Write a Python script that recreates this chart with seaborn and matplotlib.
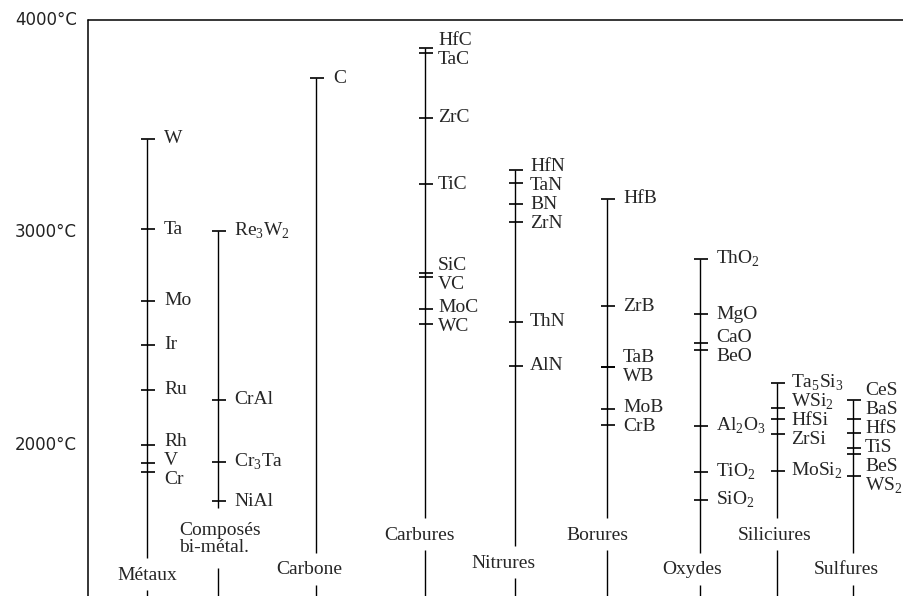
import matplotlib
matplotlib.use('Agg')
import matplotlib.pyplot as plt
import seaborn as sns
import pandas as pd

# Melting points (°C), one small list per family
groups = ['Métaux', 'Composés\nbi-métal.', 'Carbone', 'Carbures', 'Nitrures',
          'Borures', 'Oxydes', 'Siliciures', 'Sulfures']

metaux = ['W', 'Ta', 'Mo', 'Ir', 'Ru', 'Rh', 'V', 'Cr']
metaux_t = [3440, 3016, 2678, 2471, 2259, 2000, 1915, 1873]

bimetal = [r'Re$_\mathregular{3}$W$_\mathregular{2}$', 'CrAl',
           r'Cr$_\mathregular{3}$Ta', 'NiAl']
bimetal_t = [3007, 2212, 1920, 1736]

carbone = ['C']
carbone_t = [3727]

carbures = ['HfC', 'TaC', 'ZrC', 'TiC', 'SiC', 'VC', 'MoC', 'WC']
carbures_t = [3868, 3845, 3539, 3228, 2809, 2791, 2640, 2569]

nitrures = ['HfN', 'TaN', 'BN', 'ZrN', 'ThN', 'AlN']
nitrures_t = [3294, 3233, 3134, 3049, 2579, 2372]

borures = ['HfB', 'ZrB', 'TaB', 'WB', 'MoB', 'CrB']
borures_t = [3158, 2654, 2367, 2366, 2169, 2094]

oxydes = [r'ThO$_\mathregular{2}$', 'MgO', 'CaO', 'BeO',
          r'Al$_\mathregular{2}$O$_\mathregular{3}$',
          r'TiO$_\mathregular{2}$', r'SiO$_\mathregular{2}$']
oxydes_t = [2875, 2616, 2480, 2447, 2089, 1873, 1741]

siliciures = [r'Ta$_\mathregular{5}$Si$_\mathregular{3}$', r'WSi$_\mathregular{2}$',
              'HfSi', 'ZrSi', r'MoSi$_\mathregular{2}$']
siliciures_t = [2292, 2174, 2122, 2052, 1878]

sulfures = ['CeS', 'BaS', 'HfS', 'TiS', 'BeS', r'WS$_\mathregular{2}$']
sulfures_t = [2212, 2122, 2056, 1986, 1958, 1854]

y_ticks = [4000, 3000, 2000]

all_names = [metaux, bimetal, carbone, carbures, nitrures, borures, oxydes,
             siliciures, sulfures]
all_temps = [metaux_t, bimetal_t, carbone_t, carbures_t, nitrures_t, borures_t,
             oxydes_t, siliciures_t, sulfures_t]

# Layout (pixel columns / rows of the 904x596 canvas)
W, H = 904, 596
SCALE = 0.2125          # px per °C


def px2deg(y):
    return 4000 - (y - 20) / SCALE


col_x = [147, 218, 316, 425, 515, 607, 700, 777, 853]
label_dx = [17, 16, 17, 13, 15, 16, 16, 14, 12]
name_row = [575, 539, 570, 535, 563, 535, 570, 535, 570]
name_dx = [0, 2, -7, -5, -12, -10, -8, -2, -7]
name_half = [17, 31, 17, 17, 17, 17, 17, 17, 17]


def spread(vals, gap):
    """Push labels apart so that they are at least `gap` apart (cluster centred)."""
    order = sorted(range(len(vals)), key=lambda i: -vals[i])
    clusters = []
    for i in order:
        clusters.append([i])
        while len(clusters) > 1:
            a, b = clusters[-2], clusters[-1]
            ca = sum(vals[j] for j in a) / len(a)
            cb = sum(vals[j] for j in b) / len(b)
            a_bottom = ca - (len(a) - 1) / 2 * gap
            b_top = cb + (len(b) - 1) / 2 * gap
            if a_bottom - b_top < gap:
                clusters[-2:] = [a + b]
            else:
                break
    pos = [0.0] * len(vals)
    for c in clusters:
        m = sum(vals[j] for j in c) / len(c)
        top = m + (len(c) - 1) / 2 * gap
        for k, j in enumerate(c):
            pos[j] = top - k * gap
    return pos


sns.set_style('white')
plt.rcParams['font.family'] = ['Liberation Serif', 'DejaVu Serif']
plt.rcParams['mathtext.fontset'] = 'custom'
plt.rcParams['mathtext.rm'] = 'Liberation Serif'

rows = []
for i, (names, temps) in enumerate(zip(all_names, all_temps)):
    for n, t in zip(names, temps):
        rows.append({'groupe': groups[i], 'compose': n, 'T': t,
                     'x': col_x[i] + 1.5})
df = pd.DataFrame(rows)

fig = plt.figure(figsize=(W / 100, H / 100), dpi=100)
ax = fig.add_axes([0, 0, 1, 1])
ymin, ymax = px2deg(H), px2deg(0)

# tick marks for each compound
sns.scatterplot(data=df, x='x', y='T', marker='_', s=100, color='black',
                linewidth=1.2, ax=ax, legend=False)
ax.set_xlim(0, W)
ax.set_ylim(ymin, ymax)
ax.axis('off')

# frame: left scale and top rule
ax.plot([88, 88], [ymin, 4000], color='black', lw=1.1)
ax.plot([88, W], [4000, 4000], color='black', lw=1.1)
for t in y_ticks:
    ax.text(77, t, f'{t}°C', ha='right', va='center', fontsize=12,
            family='DejaVu Sans', color='#222222')

# vertical scales with a gap for the family name
for i, temps in enumerate(all_temps):
    x = col_x[i]
    yc = px2deg(name_row[i])
    gap_top = px2deg(name_row[i] - name_half[i])
    gap_bot = px2deg(name_row[i] + 15 + (name_half[i] - 17))
    ax.vlines(x, gap_top, max(temps), color='black', lw=1.0)
    ax.vlines(x, ymin, gap_bot, color='black', lw=1.0)
    if '\n' in groups[i]:
        ax.text(x + name_dx[i], yc, groups[i], ha='center', va='center',
                fontsize=14, multialignment='left', linespacing=1.05)
    else:
        ax.text(x + name_dx[i], yc, groups[i], ha='center', va='center',
                fontsize=14)

# compound labels
gap = 19 / SCALE
for i, (names, temps) in enumerate(zip(all_names, all_temps)):
    pos = spread(temps, gap)
    for n, p in zip(names, pos):
        ax.text(col_x[i] + label_dx[i], p, n, ha='left', va='center',
                fontsize=14)

fig.savefig('out.png', dpi=100)
